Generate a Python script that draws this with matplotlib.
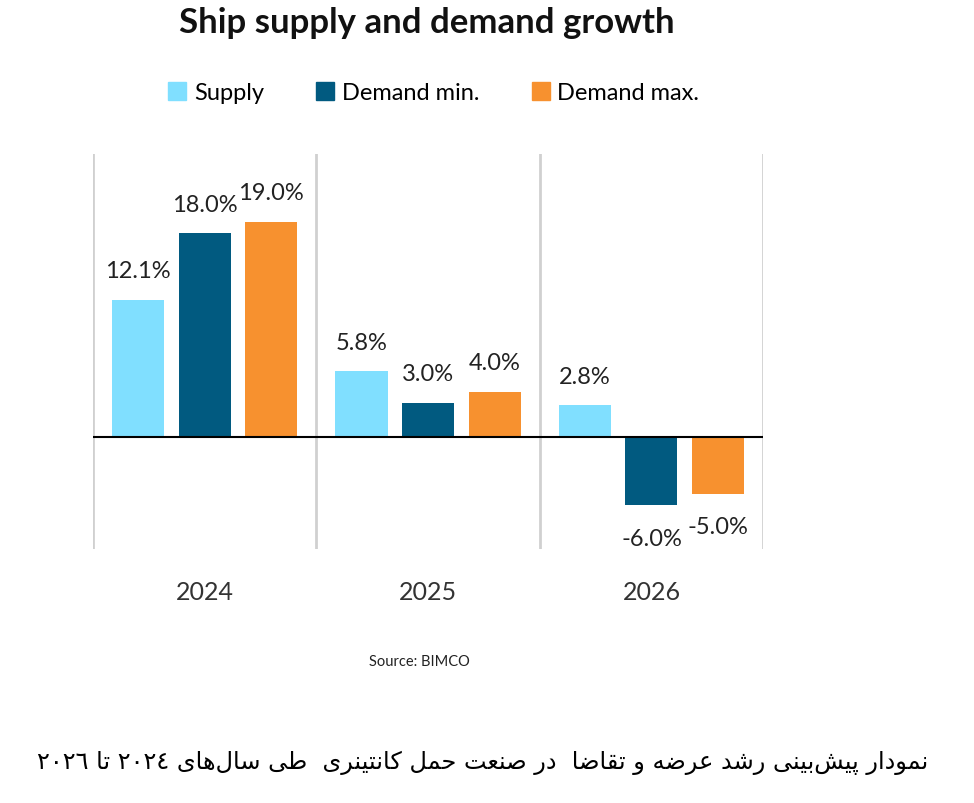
import matplotlib
matplotlib.use("Agg")
import matplotlib.pyplot as plt
import numpy as np
from matplotlib.lines import Line2D

# ---------------- data ----------------
years = ["2024", "2025", "2026"]
series_names = ["Supply", "Demand min.", "Demand max."]
supply = [12.1, 5.8, 2.8]
demand_min = [18.0, 3.0, -6.0]
demand_max = [19.0, 4.0, -5.0]
title_text = "Ship supply and demand growth"
source_text = "Source: BIMCO"
caption_text = "نمودار پیش\u200cبینی رشد عرضه و تقاضا  در صنعت حمل کانتینری  طی سال\u200cهای ٢٠٢٤ تا ٢٠٢٦"

colors = ["#80DFFF", "#015A80", "#F7912F"]

# ---------------- minimal Arabic/Persian shaping ----------------
FORMS = {
    "ا": ("\uFE8D", "\uFE8E"),
    "د": ("\uFEA9", "\uFEAA"),
    "ر": ("\uFEAD", "\uFEAE"),
    "ز": ("\uFEAF", "\uFEB0"),
    "و": ("\uFEED", "\uFEEE"),
    "ب": ("\uFE8F", "\uFE90", "\uFE91", "\uFE92"),
    "پ": ("\uFB56", "\uFB57", "\uFB58", "\uFB59"),
    "ت": ("\uFE95", "\uFE96", "\uFE97", "\uFE98"),
    "ح": ("\uFEA1", "\uFEA2", "\uFEA3", "\uFEA4"),
    "س": ("\uFEB1", "\uFEB2", "\uFEB3", "\uFEB4"),
    "ش": ("\uFEB5", "\uFEB6", "\uFEB7", "\uFEB8"),
    "ص": ("\uFEB9", "\uFEBA", "\uFEBB", "\uFEBC"),
    "ض": ("\uFEBD", "\uFEBE", "\uFEBF", "\uFEC0"),
    "ط": ("\uFEC1", "\uFEC2", "\uFEC3", "\uFEC4"),
    "ع": ("\uFEC9", "\uFECA", "\uFECB", "\uFECC"),
    "ق": ("\uFED5", "\uFED6", "\uFED7", "\uFED8"),
    "ک": ("\uFB8E", "\uFB8F", "\uFB90", "\uFB91"),
    "ل": ("\uFEDD", "\uFEDE", "\uFEDF", "\uFEE0"),
    "م": ("\uFEE1", "\uFEE2", "\uFEE3", "\uFEE4"),
    "ن": ("\uFEE5", "\uFEE6", "\uFEE7", "\uFEE8"),
    "ه": ("\uFEE9", "\uFEEA", "\uFEEB", "\uFEEC"),
    "ی": ("\uFBFC", "\uFBFD", "\uFBFE", "\uFBFF"),
}


def shape_rtl(text):
    chars = list(text)
    out = []
    for i, c in enumerate(chars):
        if c not in FORMS:
            out.append(c)
            continue
        prev = chars[i - 1] if i > 0 else None
        nxt = chars[i + 1] if i + 1 < len(chars) else None
        joins_prev = prev in FORMS and len(FORMS[prev]) == 4
        joins_next = len(FORMS[c]) == 4 and nxt in FORMS
        f = FORMS[c]
        if joins_prev and joins_next:
            out.append(f[3])
        elif joins_prev:
            out.append(f[1])
        elif joins_next:
            out.append(f[2])
        else:
            out.append(f[0])
    out = [c for c in out if c != "\u200c"]
    # visual order: reverse, but keep digit runs left-to-right
    runs = []
    for c in out:
        isdig = c.isdigit()
        if runs and runs[-1][0] and isdig:
            runs[-1][1].append(c)
        else:
            runs.append((isdig, [c]))
    vis = []
    for isdig, cs in reversed(runs):
        vis.extend(cs if isdig else list(reversed(cs)))
    return "".join(vis)


plt.rcParams["font.family"] = ["Lato", "DejaVu Sans"]

fig = plt.figure(figsize=(9.74, 8.04), dpi=100)
ax = fig.add_axes([0.0955, 0.3159, 0.688, 0.4913])

x = np.arange(len(years))
offsets = [-0.298, 0.0, 0.298]
width = 0.233
all_series = [supply, demand_min, demand_max]

for vals, off, col in zip(all_series, offsets, colors):
    ax.bar(x + off, vals, width=width, color=col, zorder=2)
    for xi, v in zip(x + off, vals):
        dy = 21 if v >= 0 else -24
        ax.annotate(f"{v:.1f}%", xy=(xi, v), xytext=(0, dy),
                    textcoords="offset points", ha="center", va="center",
                    fontsize=17, color="#222222")

ax.axhline(0, color="black", lw=1.5, zorder=3)
ax.set_xlim(-0.5, 2.5)
ax.set_ylim(-9.9, 25)
ax.set_xticks(x)
ax.set_xticklabels(years, fontsize=18, color="#333333")
ax.set_xticks([-0.5, 0.5, 1.5, 2.5], minor=True)
ax.tick_params(axis="x", which="both", length=0, pad=22)
ax.set_yticks([])
ax.grid(which="minor", axis="x", color="#D0D0D0", lw=2, zorder=0)
for s in ax.spines.values():
    s.set_visible(False)

fig.text(0.438, 0.971, title_text, ha="center", va="center",
         fontsize=25, fontweight="bold", color="#111111")

handles = [Line2D([], [], marker="s", linestyle="none", markersize=13,
                  markerfacecolor=c, markeredgecolor=c) for c in colors]
fig.legend(handles, series_names, loc="center", bbox_to_anchor=(0.444, 0.884),
           ncol=3, frameon=False, fontsize=17, handletextpad=0.2,
           columnspacing=2.1, handlelength=1.0)

fig.text(0.431, 0.177, source_text, ha="center", va="center",
         fontsize=10.5, color="#222222")

fig.text(0.953, 0.051, shape_rtl(caption_text), ha="right", va="center",
         fontsize=17.3, color="black", family=["DejaVu Sans"])

fig.savefig("out.png", dpi=100, facecolor="white")
